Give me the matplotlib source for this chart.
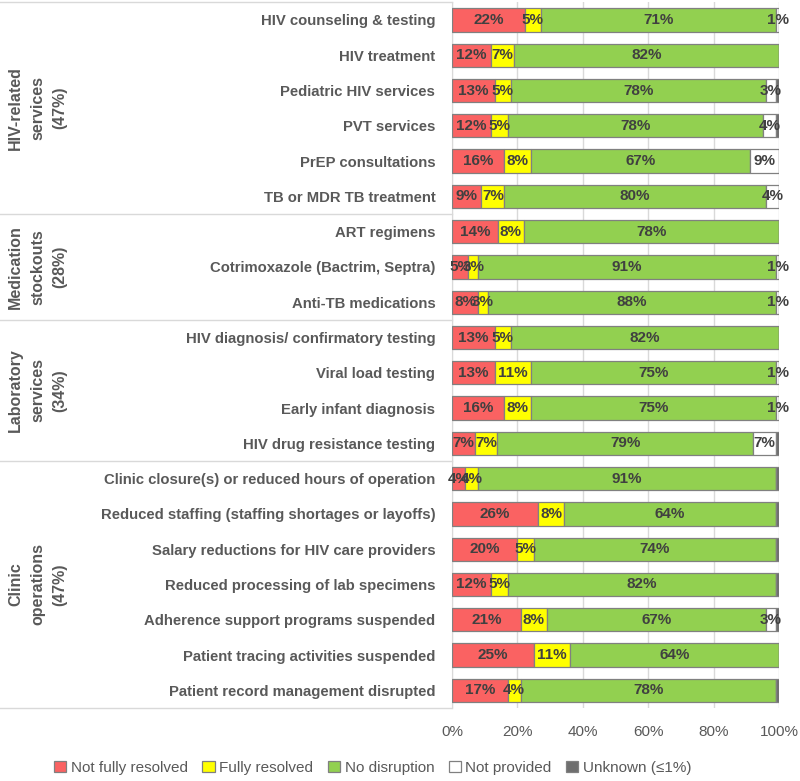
import numpy as np
import matplotlib.pyplot as plt
from matplotlib.transforms import blended_transform_factory
from matplotlib.patches import Patch

plt.rcParams['font.family'] = ['Liberation Sans', 'DejaVu Sans']

categories = [
    'HIV counseling & testing', 'HIV treatment', 'Pediatric HIV services',
    'PVT services', 'PrEP consultations', 'TB or MDR TB treatment',
    'ART regimens', 'Cotrimoxazole (Bactrim, Septra)', 'Anti-TB medications',
    'HIV diagnosis/ confirmatory testing', 'Viral load testing',
    'Early infant diagnosis', 'HIV drug resistance testing',
    'Clinic closure(s) or reduced hours of operation',
    'Reduced staffing (staffing shortages or layoffs)',
    'Salary reductions for HIV care providers',
    'Reduced processing of lab specimens',
    'Adherence support programs suspended',
    'Patient tracing activities suspended',
    'Patient record management disrupted',
]
groups = ['HIV-related\nservices\n(47%)', 'Medication\nstockouts\n(28%)',
          'Laboratory\nservices\n(34%)', 'Clinic\noperations\n(47%)']
group_sizes = [6, 3, 4, 7]

series = ['Not fully resolved', 'Fully resolved', 'No disruption',
          'Not provided', 'Unknown (≤1%)']
not_fully = [22, 12, 13, 12, 16, 9, 14, 5, 8, 13, 13, 16, 7, 4, 26, 20, 12, 21, 25, 17]
fully = [5, 7, 5, 5, 8, 7, 8, 3, 3, 5, 11, 8, 7, 4, 8, 5, 5, 8, 11, 4]
no_disruption = [71, 82, 78, 78, 67, 80, 78, 91, 88, 82, 75, 75, 79, 91, 64, 74, 82, 67, 64, 78]
not_provided = [1, 0, 3, 4, 9, 4, 0, 1, 1, 0, 1, 1, 7, 0, 0, 0, 0, 3, 0, 0]
unknown = [0, 0, 1, 1, 0, 0, 0, 0, 0, 0, 0, 0, 1, 1, 1, 1, 1, 1, 0, 1]

colors = ['#FA6262', '#FFFF00', '#92D050', '#FFFFFF', '#6E6E6E']
gray_text = '#595959'

data = np.array([not_fully, fully, no_disruption, not_provided, unknown], dtype=float)
pct = data / data.sum(axis=0) * 100  # 100% stacked like Excel

fig = plt.figure(figsize=(8, 7.81), dpi=100)
ax = fig.add_axes([0.565, 0.0935, 0.409, 0.9035])

y = np.arange(len(categories))
left = np.zeros(len(categories))
for i, name in enumerate(series):
    ax.barh(y, pct[i], left=left, height=0.66, color=colors[i],
            edgecolor='#808080', linewidth=0.9, label=name, zorder=3)
    if i < 4:
        for j in range(len(categories)):
            if data[i, j] > 0:
                ax.text(left[j] + pct[i, j] / 2, y[j], f'{int(data[i, j])}%',
                        ha='center', va='center', fontsize=11,
                        fontweight='bold', color='#404040', zorder=4)
    left += pct[i]

ax.set_xlim(0, 100)
ax.set_ylim(len(categories) - 0.5, -0.5)
ax.set_xticks([0, 20, 40, 60, 80, 100])
ax.set_xticklabels([f'{t}%' for t in [0, 20, 40, 60, 80, 100]])
ax.tick_params(axis='x', length=0, labelsize=11, labelcolor=gray_text, pad=12)
ax.set_yticks(y)
ax.set_yticklabels(categories, fontweight='bold', fontsize=10.7, color=gray_text)
ax.tick_params(axis='y', length=0, pad=12)
ax.grid(axis='x', color='#D9D9D9', linewidth=1, zorder=0)
for s in ['top', 'right', 'bottom']:
    ax.spines[s].set_visible(False)
ax.spines['left'].set_color('#D9D9D9')

# group separators and labels in the category area
trans = blended_transform_factory(ax.transAxes, ax.transData)
x0 = -452 / 327
bounds = np.concatenate([[0], np.cumsum(group_sizes)]) - 0.5
for b in bounds:
    ax.plot([x0, 0], [b, b], transform=trans, color='#D9D9D9', linewidth=1,
            clip_on=False)
for g, lo, hi in zip(groups, bounds[:-1], bounds[1:]):
    ax.text(x0 + 38 / 327, (lo + hi) / 2, g, transform=trans, rotation=90,
            ha='center', va='center', fontsize=11.5, fontweight='bold',
            color=gray_text, linespacing=1.6)

handles = [Patch(facecolor=c, edgecolor='#808080', linewidth=0.9) for c in colors]
fig.legend(handles, series, loc='center', bbox_to_anchor=(0.466, 0.017),
           ncol=5, frameon=False, fontsize=11, labelcolor=gray_text,
           handlelength=0.8, handleheight=0.8, handletextpad=0.3,
           columnspacing=0.95)

fig.savefig('out.png', dpi=100)
